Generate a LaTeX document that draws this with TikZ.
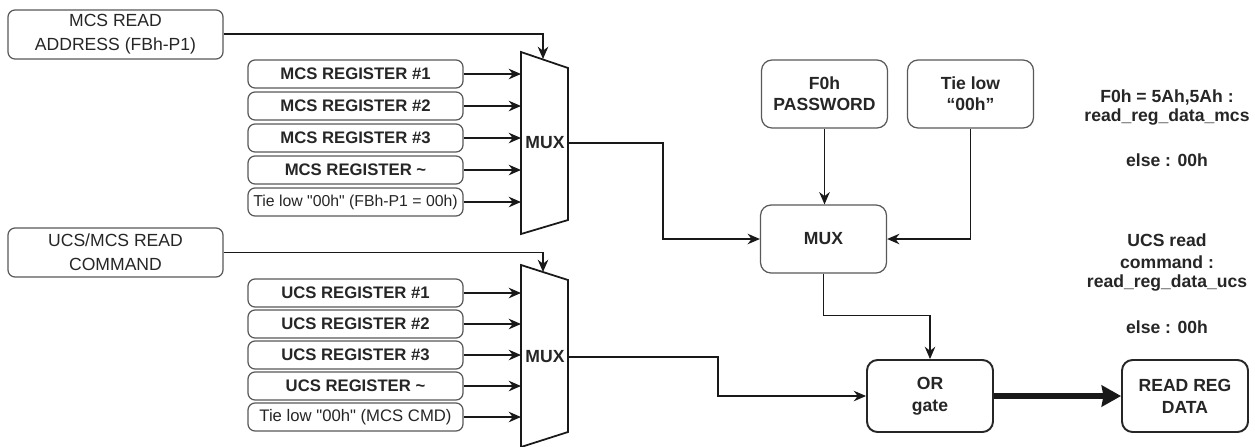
\documentclass[tikz,border=0pt]{standalone}
\usepackage{fontspec}
\setmainfont{Liberation Sans}
\newfontfamily\rawsans[Ligatures=TeXOff]{Liberation Sans}
\usetikzlibrary{arrows.meta}
\begin{document}
\begin{tikzpicture}[x=0.2mm,y=-0.2mm,
  box/.style={draw=black!65, line width=0.7pt, rounded corners=4pt, fill=white, align=center, inner sep=1pt, text=black!85},
  srcbox/.style={box, minimum width=43mm, minimum height=9.8mm, font=\fontsize{10}{13.5}\selectfont},
  regbox/.style={box, minimum width=43mm, minimum height=5.6mm, font=\bfseries\fontsize{9.5}{11}\selectfont},
  tiebox/.style={box, minimum width=43mm, minimum height=5.6mm, font=\rawsans\fontsize{9}{11}\selectfont},
  midbox/.style={box, rounded corners=6pt, minimum width=25.2mm, minimum height=13.6mm, font=\bfseries\fontsize{10}{12}\selectfont},
  outbox/.style={box, rounded corners=6pt, draw=black!85, line width=1.1pt, minimum width=25.2mm, minimum height=14.4mm, font=\bfseries\fontsize{10}{12.5}\selectfont},
  muxshape/.style={draw=black!90, line width=1pt, fill=white},
  muxlabel/.style={font=\bfseries\fontsize{10}{12}\selectfont, text=black!85, inner sep=0pt},
  note/.style={font=\bfseries\fontsize{10}{12}\selectfont, text=black!85, inner sep=0pt},
  arr/.style={draw=black!90, line width=0.9pt, -{Stealth[length=7pt,width=6pt]}},
  wire/.style={draw=black!90, line width=0.8pt, -{Stealth[length=7pt,width=6pt]}},
  bigarr/.style={draw=black!90, line width=3.5pt, -{Stealth[length=11pt,width=12pt,inset=1pt]}}
]
\useasboundingbox (0,0) rectangle (1255,446);
\fill[white] (0,0) rectangle (1255,446);

% ---- MUX 1 ----
\coordinate (m1nw) at (521,52);
\coordinate (m1ne) at (568,68);
\coordinate (m1se) at (568,220);
\coordinate (m1sw) at (521,234);
\coordinate (m1in) at (543,59);
\coordinate (m1out) at (568,143);
\draw[muxshape] (m1nw) -- (m1ne) -- (m1se) -- (m1sw) -- cycle;
\node[muxlabel] (m1lab) at (545,143) {MUX};

% ---- MUX 2 ----
\coordinate (m2nw) at (521,265);
\coordinate (m2ne) at (568,280);
\coordinate (m2se) at (568,432);
\coordinate (m2sw) at (521,447);
\coordinate (m2in) at (543,272);
\coordinate (m2out) at (568,357);
\draw[muxshape] (m2nw) -- (m2ne) -- (m2se) -- (m2sw) -- cycle;
\node[muxlabel] (m2lab) at (545,357) {MUX};

% ---- source boxes ----
\node[srcbox] (addr) at (115.5,34.5) {MCS READ\\ADDRESS (FBh-P1)};
\node[srcbox] (cmd) at (115.5,252.5) {UCS/MCS READ\\COMMAND};

% ---- MCS registers ----
\node[regbox] (mr1) at (355.5,74) {MCS REGISTER \#1};
\node[regbox] (mr2) at (355.5,106) {MCS REGISTER \#2};
\node[regbox] (mr3) at (355.5,138) {MCS REGISTER \#3};
\node[regbox] (mr4) at (355.5,170) {MCS REGISTER \textasciitilde};
\node[tiebox] (mr5) at (355.5,202) {Tie low "00h" (FBh-P1 = 00h)};

% ---- UCS registers ----
\node[regbox] (ur1) at (355.5,293) {UCS REGISTER \#1};
\node[regbox] (ur2) at (355.5,324) {UCS REGISTER \#2};
\node[regbox] (ur3) at (355.5,355) {UCS REGISTER \#3};
\node[regbox] (ur4) at (355.5,386) {UCS REGISTER \textasciitilde};
\node[tiebox, font=\rawsans\fontsize{9.5}{11}\selectfont] (ur5) at (355.5,417) {Tie low "00h" (MCS CMD)};

% register arrows
\foreach \r in {mr1,mr2,mr3,mr4,mr5}{
  \draw[arr] (\r.east) -- (\r.east -| m1nw);
}
\foreach \r in {ur1,ur2,ur3,ur4,ur5}{
  \draw[arr] (\r.east) -- (\r.east -| m2nw);
}

% select arrows
\draw[arr] (addr.east |- 0,34) -| (m1in);
\draw[arr] (cmd.east) -| (m2in);

% ---- middle section ----
\node[midbox] (pwd) at (824.5,94) {F0h\\PASSWORD};
\node[midbox] (tie) at (970.5,94) {Tie low\\“00h”};
\node[midbox] (mux) at (823.5,239) {MUX};
\node[outbox] (or) at (930,396) {OR\\gate};
\node[outbox] (rrd) at (1185,396) {READ REG\\DATA};

\draw[wire] (m1out) -- ++(95,0) |- (mux.west);
\draw[wire] (pwd.south) -- (pwd.south |- mux.north);
\draw[wire] (tie.south) |- (mux.east);
\draw[wire] (mux.south) -- ++(0,42) -| (or.north);
\draw[wire] (m2out) -- ++(150,0) |- (or.west);
\draw[bigarr] (or.east) -- (rrd.west);

% ---- notes ----
\node[note] (n1) at (1167,97) {F0h = 5Ah,5Ah :};
\node[note] (n2) at (1167,117) {read\_reg\_data\_mcs};
\node[note] (n3) at (1167,160) {else : 00h};
\node[note] (n4) at (1167,240) {UCS read};
\node[note] (n5) at (1167,262) {command :};
\node[note] (n6) at (1167,283) {read\_reg\_data\_ucs};
\node[note] (n7) at (1167,327) {else : 00h};
\end{tikzpicture}
\end{document}
